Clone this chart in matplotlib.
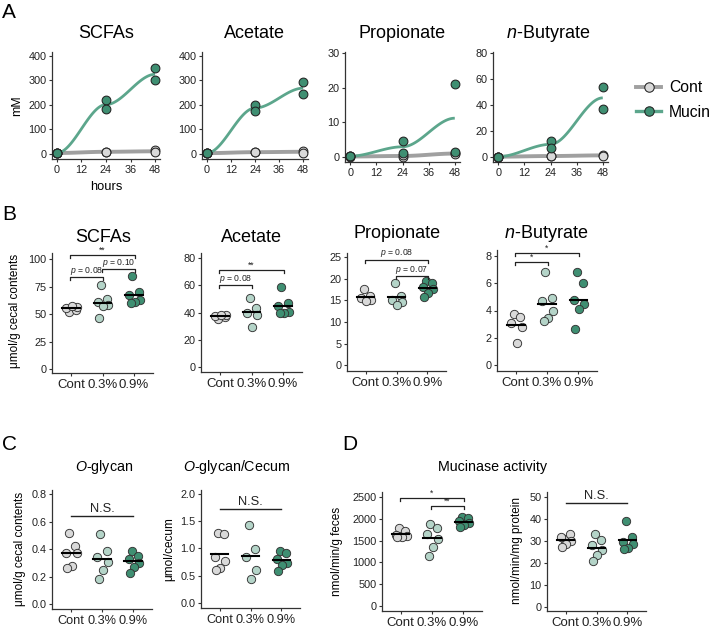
import numpy as np
import matplotlib
matplotlib.use('Agg')
import matplotlib.pyplot as plt
from matplotlib.lines import Line2D

plt.rcParams['font.family'] = ['Liberation Sans', 'DejaVu Sans']
plt.rcParams['mathtext.fontset'] = 'custom'
plt.rcParams['mathtext.rm'] = 'Liberation Sans'
plt.rcParams['mathtext.it'] = 'Liberation Sans:italic'

# ---------------- data ----------------
hours = [0, 24, 48]
# panel A: two replicates per time point
scfa_cont = [[3, 5], [8, 10], [15, 7]]
scfa_mucin = [[3, 5], [220, 183], [350, 300]]
acet_cont = [[3, 4], [7, 8], [13, 5]]
acet_mucin = [[3, 4], [200, 175], [292, 245]]
prop_cont = [[0.1, 0.2], [0.1, 0.5], [1.2, 0.8]]
prop_mucin = [[0.2, 0.3], [4.7, 1.2], [21.0, 1.4]]
buty_cont = [[0.2, 0.3], [0.5, 1.0], [1.5, 1.0]]
buty_mucin = [[0.2, 0.3], [12.5, 7.0], [54, 37]]

groups = ['Cont', '0.3%', '0.9%']
# panel B
b_scfa = [[52, 54, 55.5, 56.5, 57.5], [76, 64, 61, 58, 57, 46], [84.5, 70, 67, 62.7, 61, 59.6]]
b_acet = [[35, 36.5, 37.5, 38.5, 38], [51, 43.5, 39.5, 38.5, 29.6], [58.5, 47, 45, 40.5, 40, 39.5]]
b_prop = [[17.6, 16, 15.5, 15, 14.8], [19, 16.1, 15.1, 14.5, 13.8], [19.5, 19, 18.1, 17.6, 16.7, 15.7]]
b_buty = [[3.75, 3.5, 3.06, 2.77, 1.64], [6.8, 4.9, 4.7, 4.0, 3.43, 3.23], [6.8, 6.0, 4.8, 4.48, 4.1, 2.62]]
# panel C
c_oglycan = [[0.52, 0.42, 0.37, 0.37, 0.28, 0.26], [0.51, 0.385, 0.344, 0.308, 0.247, 0.18],
             [0.388, 0.35, 0.33, 0.296, 0.27, 0.228]]
c_ocecum = [[1.29, 1.27, 0.85, 0.76, 0.65, 0.61], [1.42, 0.98, 0.85, 0.61, 0.44],
            [0.95, 0.91, 0.80, 0.73, 0.70, 0.59]]
# panel D
d_feces = [[1800, 1720, 1620, 1600, 1580, 1590], [1880, 1800, 1650, 1530, 1360, 1150],
           [2050, 2030, 1960, 1900, 1850, 1820]]
d_protein = [[31, 33, 32, 30, 28.5, 27.5], [33, 30.5, 28.2, 25.9, 23.6, 20.9],
             [39.2, 32, 29.5, 28.5, 27, 26.5]]

# ---------------- style ----------------
W, H = 710, 629
fig = plt.figure(figsize=(7.1, 6.29), dpi=100)
DARK = '#333333'
C_GRAY = '#d9d9d9'
C_LT = '#b4d4c8'
C_TEAL = '#3f8f72'
L_TEAL = '#5ca68c'
L_GRAY = '#a0a0a0'
FILLS = [C_GRAY, C_LT, C_TEAL]
JIT = [-0.05, 0.15, -0.15, 0.19, 0.03, -0.11]


def box(l, t, r, b):
    return fig.add_axes([l / W, 1 - b / H, (r - l) / W, (b - t) / H])


def style(ax, xls=7.8, yls=7.8):
    for s in ['top', 'right']:
        ax.spines[s].set_visible(False)
    for s in ['left', 'bottom']:
        ax.spines[s].set_color(DARK)
        ax.spines[s].set_linewidth(0.9)
    ax.tick_params(length=2.5, width=0.8, color=DARK, pad=1.5)
    ax.tick_params(axis='x', labelsize=xls, labelcolor='#222222')
    ax.tick_params(axis='y', labelsize=yls, labelcolor='#222222')


def ftext(x, y, s, **kw):
    fig.text(x / W, 1 - y / H, s, **kw)


def smooth(vals):
    means = [np.mean(v) for v in vals]
    xs, ys = [], []
    for i in range(len(hours) - 1):
        t = np.linspace(0, 1, 60)
        f = 3 * t ** 2 - 2 * t ** 3
        xs.append(hours[i] + (hours[i + 1] - hours[i]) * t)
        ys.append(means[i] + (means[i + 1] - means[i]) * f)
    return np.concatenate(xs), np.concatenate(ys)


def time_panel(ax, cont, mucin, ylim, yticks):
    for vals, lc, lw in [(cont, L_GRAY, 2.8), (mucin, L_TEAL, 2.0)]:
        x, y = smooth(vals)
        ax.plot(x, y, color=lc, lw=lw, zorder=2, solid_capstyle='butt')
    for vals, fc in [(cont, C_GRAY), (mucin, C_TEAL)]:
        for h, v in zip(hours, vals):
            ax.scatter([h] * len(v), v, s=40, c=fc, edgecolors='#222222', linewidths=0.75, zorder=3)
    ax.set_xlim(-2.4, 50.4)
    ax.set_ylim(*ylim)
    ax.set_xticks([0, 12, 24, 36, 48])
    ax.set_yticks(yticks)
    style(ax)


def dot_panel(ax, data, ylim, yticks, ylabels, xls=9.5):
    for i, vals in enumerate(data):
        x = i + 1 + np.array(JIT[:len(vals)])
        ax.scatter(x, vals, s=36, c=FILLS[i], edgecolors='#333333', linewidths=0.65, zorder=3)
        m = np.mean(vals)
        ax.plot([i + 1 - 0.28, i + 1 + 0.28], [m, m], color='black', lw=1.5, zorder=4)
    ax.set_xlim(0.4, 3.6)
    ax.set_ylim(*ylim)
    ax.set_xticks([1, 2, 3])
    ax.set_xticklabels(groups)
    ax.set_yticks(yticks)
    ax.set_yticklabels(ylabels)
    style(ax, xls=xls)


def bracket(ax, g1, g2, y, label, fs=6.2, drop=0.025):
    lo, hi = ax.get_ylim()
    d = (hi - lo) * drop
    x1, x2 = g1 + 1 - 0.02, g2 + 1 + 0.02
    ax.plot([x1, x1, x2, x2], [y - d, y, y, y - d], color='#222222', lw=0.9, zorder=5, clip_on=False)
    if label.startswith('p'):
        s = '$\\it{p}$' + label[1:]
    else:
        s = label
    ax.text((x1 + x2) / 2, y + (hi - lo) * 0.004, s, ha='center', va='bottom', fontsize=fs,
            color='#222222', clip_on=False)


def ns(ax, y):
    lo, hi = ax.get_ylim()
    ax.plot([1, 3], [y, y], color='#222222', lw=1.0, clip_on=False)
    ax.text(2, y + (hi - lo) * 0.008, 'N.S.', ha='center', va='bottom', fontsize=9.3, color='#222222')


# ---------------- panel A ----------------
a1 = box(52, 52, 160, 159)
time_panel(a1, scfa_cont, scfa_mucin, (-20.4, 416), [0, 100, 200, 300, 400])
a2 = box(202, 52, 308, 159)
time_panel(a2, acet_cont, acet_mucin, (-20.4, 416), [0, 100, 200, 300, 400])
a3 = box(345, 52, 460, 162)
time_panel(a3, prop_cont, prop_mucin, (-1.44, 30.3), [0, 10, 20, 30])
a4 = box(493, 52, 608, 162)
time_panel(a4, buty_cont, buty_mucin, (-3.85, 80.8), [0, 20, 40, 60, 80])

ftext(2, 12, 'A', fontsize=15, ha='left', va='center')
for x, t in [(106, 'SCFAs'), (254, 'Acetate'), (402, 'Propionate'), (548, '$\\it{n}$-Butyrate')]:
    ftext(x, 33, t, fontsize=13, ha='center', va='center')
ftext(17, 106, 'mM', fontsize=8.8, rotation=90, ha='center', va='center')
ftext(106, 187, 'hours', fontsize=9.3, ha='center', va='center')

handles = [Line2D([], [], color=L_GRAY, lw=2.8, marker='o', markersize=6.8, markerfacecolor=C_GRAY,
                  markeredgecolor='#222222', markeredgewidth=0.75),
           Line2D([], [], color=L_TEAL, lw=2.4, marker='o', markersize=6.8, markerfacecolor=C_TEAL,
                  markeredgecolor='#222222', markeredgewidth=0.75)]
fig.legend(handles, ['Cont', 'Mucin'], loc='center left', bbox_to_anchor=(630 / W, 1 - 100 / H),
           frameon=False, fontsize=11.3, handlelength=1.6, handletextpad=0.5, labelspacing=0.6,
           borderaxespad=0)

# ---------------- panel B ----------------
b1 = box(52, 253, 153, 373)
dot_panel(b1, b_scfa, (-3.6, 105.5), [0, 25, 50, 75, 100], ['0', '25', '50', '75', '100'])
bracket(b1, 0, 2, 103.6, '**')
bracket(b1, 0, 1, 83.6, 'p = 0.08')
bracket(b1, 1, 2, 90.6, 'p = 0.10')

b2 = box(201, 253, 302, 372)
dot_panel(b2, b_acet, (-3.7, 83.7), [0, 20, 40, 60, 80], ['0', '20', '40', '60', '80'])
bracket(b2, 0, 2, 71.2, '**')
bracket(b2, 0, 1, 60.2, 'p = 0.08')

b3 = box(347, 253, 446, 371)
dot_panel(b3, b_prop, (-1.3, 25.9), [0, 5, 10, 15, 20, 25], ['0', '5', '10', '15', '20', '25'])
bracket(b3, 0, 2, 24.3, 'p = 0.08')
bracket(b3, 1, 2, 20.6, 'p = 0.07')

b4 = box(497, 250, 597, 371)
dot_panel(b4, b_buty, (-0.44, 8.44), [0, 2, 4, 6, 8], ['0', '2', '4', '6', '8'])
bracket(b4, 0, 2, 8.2, '*')
bracket(b4, 0, 1, 7.55, '*')

ftext(2, 215, 'B', fontsize=15, ha='left', va='center')
for x, y, t in [(103, 237, 'SCFAs'), (251, 237, 'Acetate'), (397, 234, 'Propionate'),
                (546, 234, '$\\it{n}$-Butyrate')]:
    ftext(x, y, t, fontsize=13, ha='center', va='center')
ftext(15, 311, 'μmol/g cecal contents', fontsize=8.5, rotation=90, ha='center', va='center')

# ---------------- panel C ----------------
c1 = box(52, 490, 152, 609)
dot_panel(c1, c_oglycan, (-0.036, 0.829), [0, 0.2, 0.4, 0.6, 0.8], ['0.0', '0.2', '0.4', '0.6', '0.8'],
          xls=9.2)
ns(c1, 0.638)
c2 = box(201, 490, 300, 608)
dot_panel(c2, c_ocecum, (-0.092, 2.07), [0, 0.5, 1.0, 1.5, 2.0], ['0.0', '0.5', '1.0', '1.5', '2.0'],
          xls=9.2)
ns(c2, 1.72)

ftext(2, 445, 'C', fontsize=15, ha='left', va='center')
ftext(104, 467, '$\\it{O}$-glycan', fontsize=10.3, ha='center', va='center')
ftext(237, 467, '$\\it{O}$-glycan/Cecum', fontsize=10.3, ha='center', va='center')
ftext(20, 549, 'μmol/g cecal contents', fontsize=8.5, rotation=90, ha='center', va='center')
ftext(169, 549, 'μmol/cecum', fontsize=8.5, rotation=90, ha='center', va='center')

# ---------------- panel D ----------------
d1 = box(382, 492, 482, 611)
dot_panel(d1, d_feces, (-115, 2615), [0, 500, 1000, 1500, 2000, 2500],
          ['0', '500', '1000', '1500', '2000', '2500'])
bracket(d1, 0, 2, 2480, '*')
bracket(d1, 1, 2, 2290, '**')
d2 = box(547, 492, 646, 611)
dot_panel(d2, d_protein, (-1.8, 52.3), [0, 10, 20, 30, 40, 50], ['0', '10', '20', '30', '40', '50'])
ns(d2, 47.4)

ftext(342, 445, 'D', fontsize=15, ha='left', va='center')
ftext(493, 467, 'Mucinase activity', fontsize=10.3, ha='center', va='center')
ftext(337, 551, 'nmol/min/g feces', fontsize=8.5, rotation=90, ha='center', va='center')
ftext(517, 551, 'nmol/min/mg protein', fontsize=8.5, rotation=90, ha='center', va='center')

fig.savefig('out.png', dpi=100)
